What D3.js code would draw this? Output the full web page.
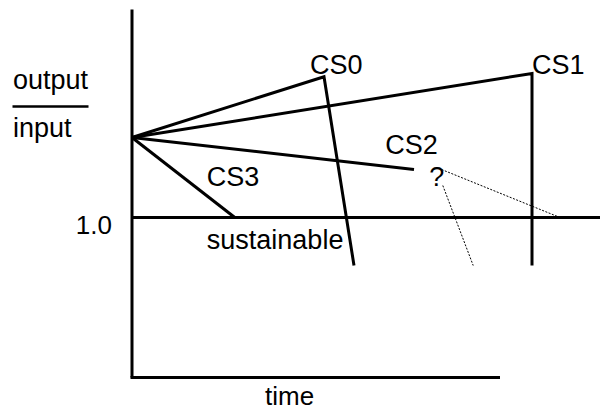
<!DOCTYPE html>
<html>
<head>
<meta charset="utf-8">
<script src="https://cdn.jsdelivr.net/npm/d3@7"></script>
<style>
    html, body { margin: 0; padding: 0; background: #fff; }
    svg { display: block; }
    text { font-family: 'Liberation Sans', Arial, sans-serif; fill: #000; }
</style>
</head>
<body>
<div id="chart"></div>
<script>
const width = 600;
const height = 413;

// Case paths, as [time, ratio] points
const caseNames = ['CS0', 'CS1', 'CS2', 'CS3'];
const caseTimes = [[0, 4.8, 5.55], [0, 10, 10], [0, 7.05], [0, 2.57]];
const caseRatios = [[1.5, 1.88, 0.7], [1.5, 1.9, 0.7], [1.5, 1.3], [1.5, 1.0]];

// Uncertain continuations of CS2 (dotted)
const guessTimes = [[7.74, 10.7], [7.77, 8.53]];
const guessRatios = [[1.3, 1.0], [1.2, 0.7]];

// Labels placed in data space
const labelTexts = ['CS0', 'CS1', 'CS2', '?', 'CS3', 'sustainable'];
const labelTimes = [4.45, 10, 6.33, 7.43, 1.87, 1.87];
const labelRatios = [1.9, 1.9, 1.4, 1.2, 1.2, 0.805];

const sustainable = 1.0;

const x = d3.scaleLinear()
    .domain([0, 10])
    .range([132, 532]);

const y = d3.scaleLinear()
    .domain([0, 2.3])
    .range([377.5, 9.5]);

const svg = d3.select('#chart')
    .append('svg')
    .attr('width', width)
    .attr('height', height);

// Axes (plain lines, no ticks)
svg.append('line')
    .attr('x1', x(0)).attr('x2', x(0))
    .attr('y1', y(2.3)).attr('y2', y(0))
    .attr('stroke', '#000').attr('stroke-width', 3);

svg.append('line')
    .attr('x1', x(0) - 1.5).attr('x2', x(9.2))
    .attr('y1', y(0)).attr('y2', y(0))
    .attr('stroke', '#000').attr('stroke-width', 3);

// Sustainable threshold
svg.append('line')
    .attr('x1', x(0)).attr('x2', width)
    .attr('y1', y(sustainable)).attr('y2', y(sustainable))
    .attr('stroke', '#000').attr('stroke-width', 3);

const line = d3.line()
    .x(d => x(d[0]))
    .y(d => y(d[1]));

// Case lines
svg.append('g')
    .selectAll('path')
    .data(caseNames.map((n, i) => caseTimes[i].map((t, j) => [t, caseRatios[i][j]])))
    .join('path')
    .attr('d', line)
    .attr('fill', 'none')
    .attr('stroke', '#000')
    .attr('stroke-width', 3)
    .attr('stroke-linejoin', 'miter');

// Dotted guesses
svg.append('g')
    .selectAll('path')
    .data(guessTimes.map((ts, i) => ts.map((t, j) => [t, guessRatios[i][j]])))
    .join('path')
    .attr('d', line)
    .attr('fill', 'none')
    .attr('stroke', '#000')
    .attr('stroke-width', 1)
    .attr('stroke-dasharray', '2,1.5');

// Case labels
svg.append('g')
    .attr('font-size', 27)
    .selectAll('text')
    .data(labelTexts)
    .join('text')
    .attr('x', (d, i) => x(labelTimes[i]))
    .attr('y', (d, i) => y(labelRatios[i]))
    .text(d => d);

// Y axis label as a fraction
svg.append('text')
    .attr('x', 13).attr('y', 89)
    .attr('font-size', 27)
    .text('output');

svg.append('line')
    .attr('x1', 12.5).attr('x2', 88.5)
    .attr('y1', 106.5).attr('y2', 106.5)
    .attr('stroke', '#000').attr('stroke-width', 2.5);

svg.append('text')
    .attr('x', 13).attr('y', 137)
    .attr('font-size', 27)
    .text('input');

// Tick label for 1.0
svg.append('text')
    .attr('x', 112).attr('y', y(sustainable) + 16)
    .attr('text-anchor', 'end')
    .attr('font-size', 26)
    .text('1.0');

// X axis label
svg.append('text')
    .attr('x', 265).attr('y', 405)
    .attr('font-size', 26)
    .text('time');
</script>
</body>
</html>
